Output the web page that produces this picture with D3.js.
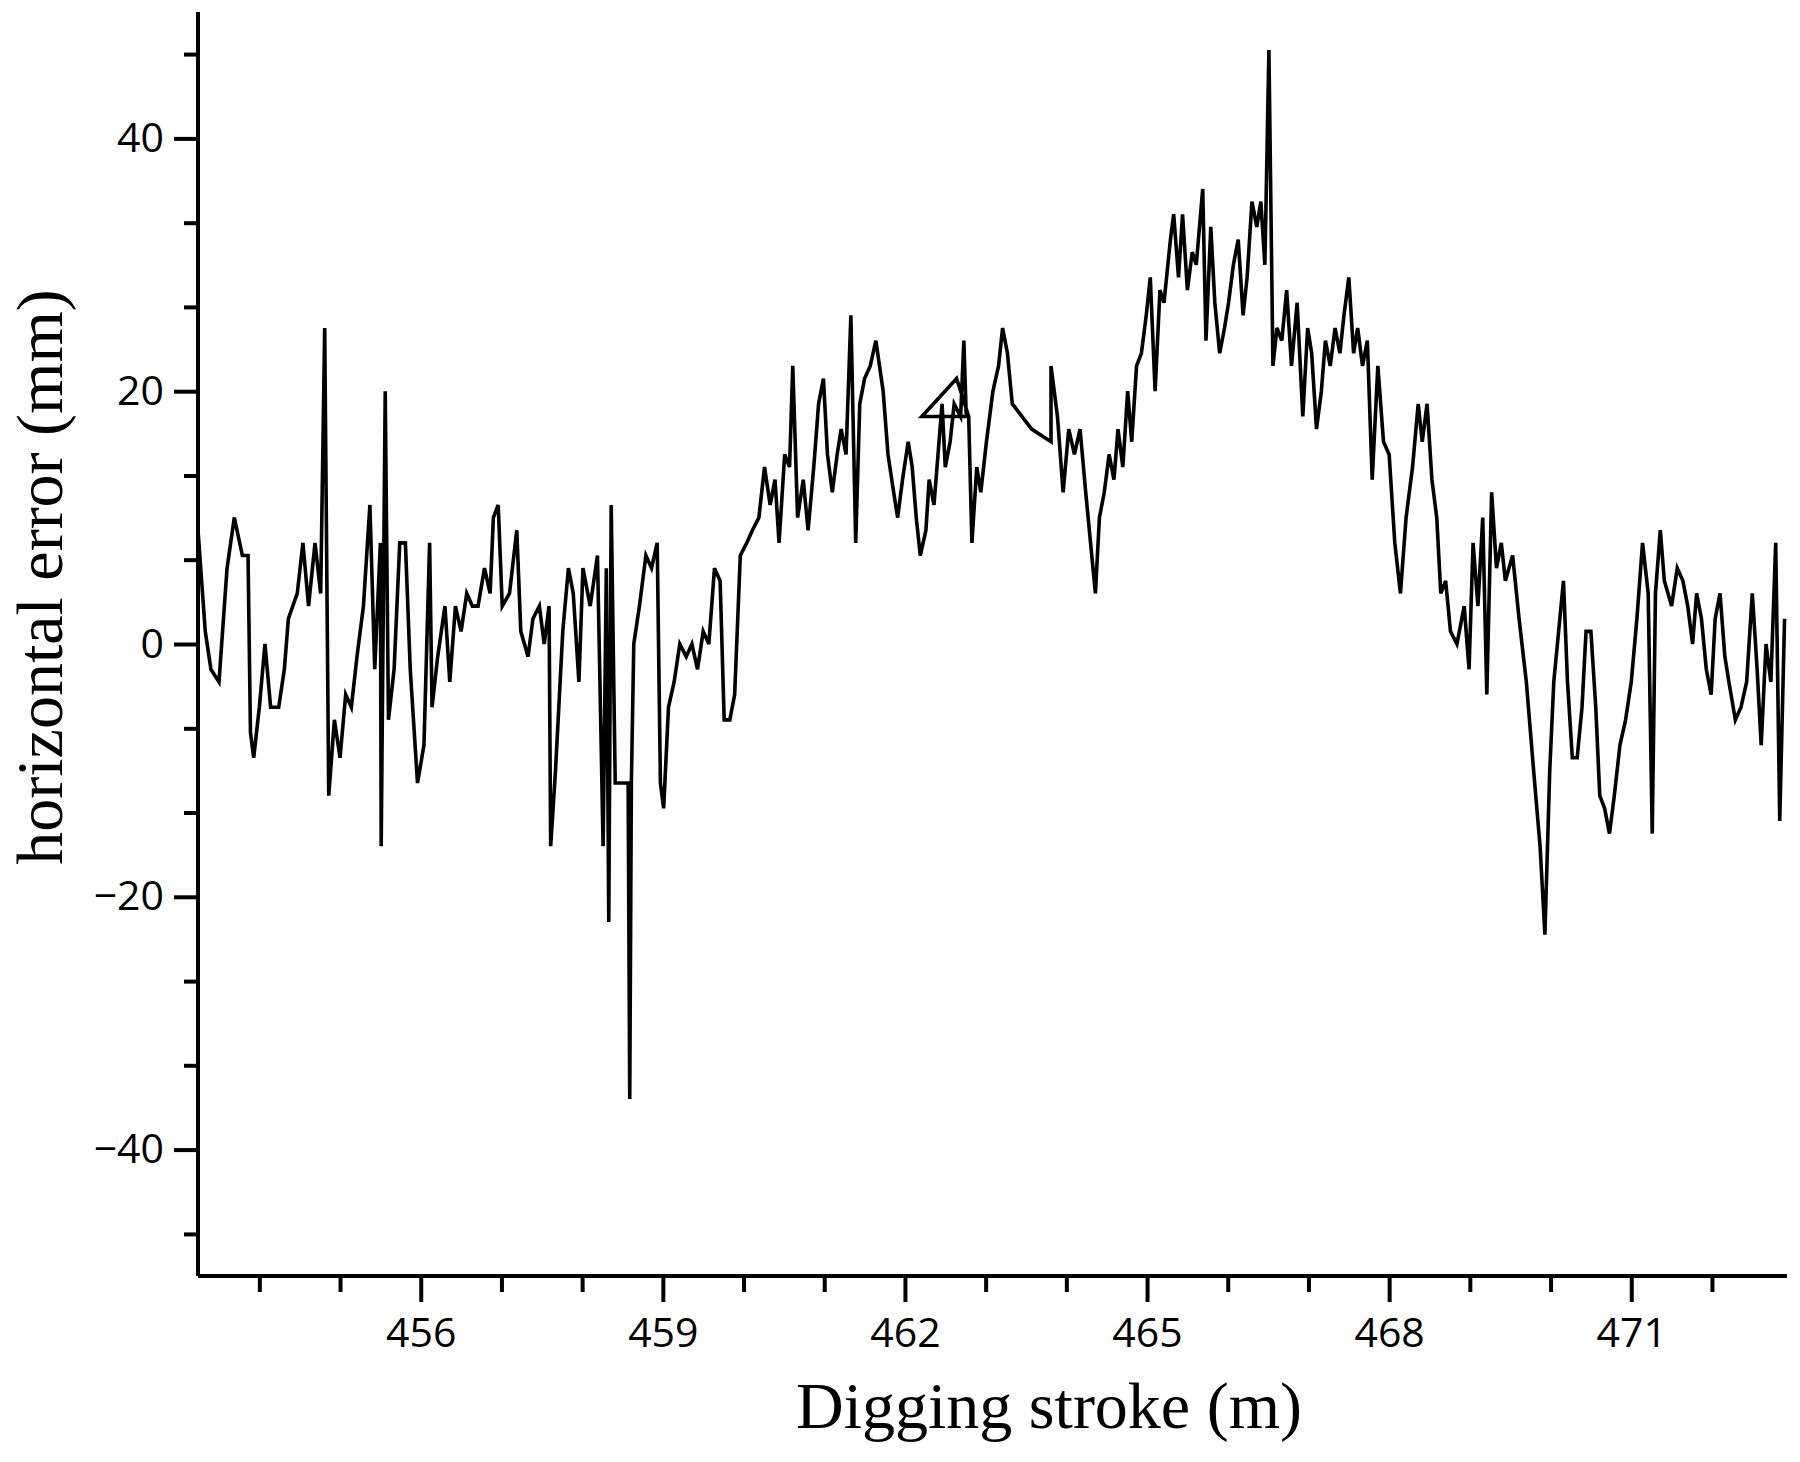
<!DOCTYPE html>
<html>
<head>
<meta charset="UTF-8">
<title>horizontal error</title>
<script src="https://d3js.org/d3.v7.min.js"></script>
<style>
  body { margin: 0; background: #fff; }
  .tick text { font-family: "Open Sans", sans-serif; font-size: 41px; fill: #000; }
  .title { font-family: "Liberation Serif", serif; font-size: 66px; fill: #000; }
</style>
</head>
<body>
<svg id="chart" width="1800" height="1462"></svg>
<script>
// digging stroke (m) and horizontal error (mm)
var strokeM = [453.24,453.33,453.40,453.50,453.60,453.69,453.79,453.86,453.89,453.93,454.00,454.07,454.14,454.24,454.31,454.36,454.47,454.54,454.61,454.69,454.76,454.81,454.86,454.93,455.00,455.07,455.14,455.21,455.29,455.37,455.43,455.50,455.51,455.56,455.60,455.67,455.74,455.81,455.87,455.96,456.04,456.11,456.14,456.21,456.30,456.36,456.43,456.50,456.57,456.64,456.71,456.79,456.86,456.90,456.96,457.01,457.10,457.19,457.24,457.33,457.39,457.47,457.53,457.59,457.61,457.67,457.76,457.83,457.89,457.96,458.01,458.10,458.19,458.26,458.30,458.33,458.36,458.41,458.50,458.57,458.59,458.61,458.64,458.71,458.79,458.86,458.93,458.97,459.01,459.07,459.14,459.21,459.29,459.36,459.43,459.50,459.57,459.64,459.71,459.76,459.83,459.89,459.96,460.04,460.11,460.19,460.26,460.33,460.39,460.44,460.51,460.57,460.61,460.67,460.74,460.80,460.87,460.93,460.99,461.04,461.10,461.16,461.21,461.27,461.33,461.39,461.44,461.50,461.57,461.64,461.73,461.79,461.86,461.91,461.97,462.04,462.09,462.14,462.19,462.26,462.30,462.36,462.41,462.46,462.50,462.56,462.61,462.69,462.73,462.76,462.21,462.64,462.79,462.83,462.89,462.94,463.01,463.09,463.16,463.21,463.27,463.33,463.57,463.81,463.81,463.89,463.96,464.03,464.10,464.17,464.24,464.30,464.36,464.41,464.47,464.53,464.59,464.64,464.70,464.76,464.81,464.87,464.93,464.99,465.04,465.10,465.16,465.21,465.29,465.33,465.39,465.44,465.50,465.56,465.61,465.69,465.73,465.79,465.84,465.90,465.96,466.01,466.07,466.13,466.19,466.24,466.30,466.36,466.41,466.46,466.51,466.56,466.61,466.67,466.73,466.79,466.86,466.93,466.99,467.04,467.10,467.16,467.21,467.27,467.33,467.39,467.44,467.50,467.56,467.61,467.67,467.73,467.79,467.86,467.93,468.00,468.07,468.14,468.21,468.29,468.36,468.41,468.47,468.53,468.59,468.64,468.70,468.76,468.84,468.93,468.99,469.04,469.10,469.16,469.21,469.27,469.33,469.39,469.44,469.53,469.61,469.70,469.79,469.87,469.93,469.99,470.04,470.10,470.16,470.21,470.27,470.33,470.39,470.44,470.50,470.56,470.61,470.67,470.73,470.79,470.86,470.93,471.00,471.07,471.14,471.21,471.26,471.30,471.36,471.41,471.50,471.57,471.64,471.70,471.76,471.81,471.87,471.93,471.99,472.04,472.10,472.16,472.21,472.29,472.36,472.43,472.50,472.56,472.61,472.67,472.73,472.79,472.84,472.90];
var errorMm = [9,1,-2,-3,6,10,7,7,-7,-9,-5,0,-5,-5,-2,2,4,8,3,8,4,25,-12,-6,-9,-4,-5,-1,3,11,-2,8,-16,20,-6,-2,8,8,-2,-11,-8,8,-5,-1,3,-3,3,1,4,3,3,6,4,10,11,3,4,9,1,-1,2,3,0,3,-16,-10,1,6,4,-3,6,3,7,-16,6,-22,11,-11,-11,-11,-36,-11,0,3,7,6,8,-11,-13,-5,-3,0,-1,0,-2,1,0,6,5,-6,-6,-4,7,8,9,10,14,11,13,8,15,14,22,10,13,9,14,19,21,15,12,15,17,15,26,8,19,21,22,24,20,15,12,10,13,16,14,10,7,9,13,11,15,19,14,16,19,18,24,18,18,21,18,8,14,12,16,20,22,25,23,19,17,16,22,18,12,17,15,17,12,8,4,10,12,15,13,17,14,20,16,22,23,26,29,20,28,27,32,34,29,34,28,31,30,36,24,33,27,23,25,27,30,32,26,29,35,33,35,30,47,22,25,24,28,22,27,18,25,23,17,20,24,22,25,23,26,29,23,25,22,24,13,22,16,15,8,4,10,14,19,16,19,13,10,4,5,1,0,3,-2,8,3,10,-4,12,6,8,5,7,2,-3,-10,-16,-23,-10,-3,1,5,-3,-9,-9,-5,1,1,-5,-12,-13,-15,-12,-8,-6,-3,2,8,4,-15,4,9,5,3,6,5,3,0,4,2,-2,-4,2,4,-1,-3,-6,-5,-3,4,-2,-8,0,-3,8,-14,2];
var xMajorTicks = [456, 459, 462, 465, 468, 471];
var xMinorTicks = [454, 455, 457, 458, 460, 461, 463, 464, 466, 467, 469, 470, 472];
var yMajorTicks = [-40, -20, 0, 20, 40];
var yMinorTicks = [-46.67, -33.33, -26.67, -13.33, -6.67, 6.67, 13.33, 26.67, 33.33, 46.67];

var svg = d3.select("#chart");
var x = d3.scaleLinear().domain([453.24, 472.93]).range([198, 1787]);
var y = d3.scaleLinear().domain([-50, 50]).range([1276, 12]);

var points = strokeM.map(function (d, i) { return [d, errorMm[i]]; });

svg.append("path")
    .datum(points)
    .attr("fill", "none")
    .attr("stroke", "#000")
    .attr("stroke-width", 3.6)
    .attr("stroke-linejoin", "miter")
    .attr("d", d3.line().x(function (d) { return x(d[0]); }).y(function (d) { return y(d[1]); }));

var fmt = function (d) { return d < 0 ? "\u2212" + Math.abs(d) : d; };

// minor ticks first, then major with labels
var xMin = svg.append("g").attr("transform", "translate(0,1276)")
    .call(d3.axisBottom(x).tickValues(xMinorTicks).tickSize(16).tickFormat(""));
var xMaj = svg.append("g").attr("transform", "translate(0,1276)")
    .call(d3.axisBottom(x).tickValues(xMajorTicks).tickSize(26).tickPadding(16).tickFormat(fmt));
var yMin = svg.append("g").attr("transform", "translate(198,0)")
    .call(d3.axisLeft(y).tickValues(yMinorTicks).tickSize(14).tickFormat(""));
var yMaj = svg.append("g").attr("transform", "translate(198,0)")
    .call(d3.axisLeft(y).tickValues(yMajorTicks).tickSize(24).tickPadding(10).tickFormat(fmt));

[xMin, xMaj, yMin, yMaj].forEach(function (g) {
    g.selectAll("line").attr("stroke", "#000").attr("stroke-width", 4);
    g.select(".domain").attr("stroke", "#000").attr("stroke-width", 4);
});
xMin.select(".domain").attr("d", "M198,0H1787");
xMaj.select(".domain").attr("d", "M198,0H1787");
yMin.select(".domain").attr("d", "M0,12V1276");
yMaj.select(".domain").attr("d", "M0,12V1276");

svg.append("text").attr("class", "title")
    .attr("x", 1049).attr("y", 1428).attr("text-anchor", "middle")
    .text("Digging stroke (m)");
svg.append("text").attr("class", "title")
    .attr("transform", "translate(62,577) rotate(-90)").attr("text-anchor", "middle")
    .text("horizontal error (mm)");
</script>
</body>
</html>
